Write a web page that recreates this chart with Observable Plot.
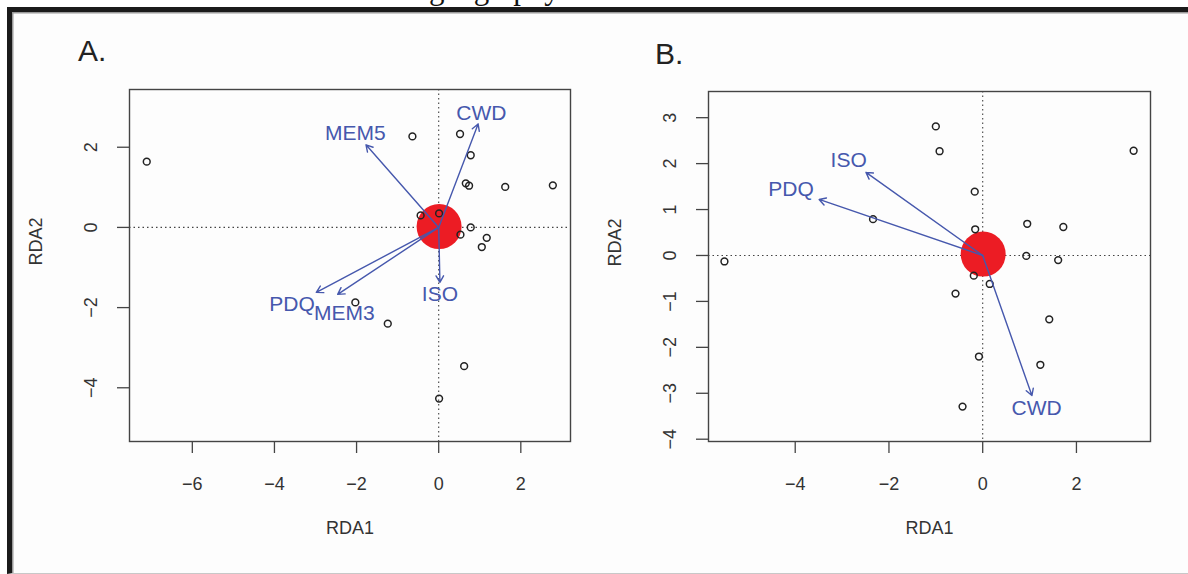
<!DOCTYPE html>
<html><head><meta charset="utf-8">
<script src="https://cdn.jsdelivr.net/npm/d3@7"></script>
<script src="https://cdn.jsdelivr.net/npm/@observablehq/plot@0.6"></script>
<style>
html,body{margin:0;padding:0;background:#fff;width:1188px;height:574px;overflow:hidden;font-family:"Liberation Sans",Arial,sans-serif;}
#cut{position:absolute;left:429px;top:-27.5px;font-family:"Liberation Serif","Times New Roman",serif;font-size:31px;line-height:31px;color:#111;white-space:nowrap;}
#frame{position:absolute;left:7px;top:7px;width:1190px;height:567px;border-left:5px solid #1b1b1b;border-top:5px solid #1b1b1b;border-bottom:1px solid #c8c8c8;background:#fdfdfd;box-sizing:border-box;box-shadow:inset 1.5px 1.5px 0 #9a9a9a;}
.panel{position:absolute;top:60px;}
.letter{position:absolute;font-size:30px;line-height:30px;color:#222;}
</style></head>
<body>
<div id="cut">geography</div>
<div id="frame"></div>
<div class="letter" style="left:78px;top:36px">A.</div>
<div class="letter" style="left:655px;top:39px">B.</div>
<div id="pa" class="panel" style="left:0px"></div>
<div id="pb" class="panel" style="left:594px"></div>
<script>
// ---- Panel A data ----
const sitesA_x = [-7.11,-0.64,0.52,0.78,0.66,0.74,1.62,2.78,-0.44,0.01,0.78,0.53,1.17,1.05,-2.03,-1.24,0.62,0.01];
const sitesA_y = [1.64,2.27,2.33,1.80,1.10,1.04,1.01,1.05,0.30,0.35,0.00,-0.18,-0.26,-0.49,-1.87,-2.40,-3.46,-4.27];
const speciesA = [[0.01, 0.02]];
const varsA = ["MEM5","CWD","ISO","PDQ","MEM3"];
const varsA_x = [-1.77,0.96,0.03,-2.98,-2.46];
const varsA_y = [2.06,2.58,-1.37,-1.62,-1.67];
const labA_x = [-2.03,1.04,0.03,-3.57,-2.30];
const labA_y = [2.35,2.85,-1.66,-1.91,-2.13];
const xTicksA = [-6,-4,-2,0,2];
const yTicksA = [-4,-2,0,2];

// ---- Panel B data ----
const sitesB_x = [-1.00,-0.92,3.22,-0.17,-2.34,-0.16,0.95,1.72,-5.51,0.93,1.61,-0.19,0.15,-0.58,1.42,-0.08,1.23,-0.43];
const sitesB_y = [2.81,2.27,2.28,1.39,0.79,0.57,0.69,0.62,-0.13,-0.01,-0.10,-0.44,-0.62,-0.83,-1.39,-2.20,-2.38,-3.29];
const speciesB = [[0.01, 0.03]];
const varsB = ["ISO","PDQ","CWD"];
const varsB_x = [-2.49,-3.49,1.05];
const varsB_y = [1.81,1.22,-3.05];
const labB_x = [-2.86,-4.09,1.15];
const labB_y = [2.07,1.44,-3.32];
const xTicksB = [-4,-2,0,2];
const yTicksB = [-4,-3,-2,-1,0,1,2,3];

const axisTitleX = "RDA1", axisTitleY = "RDA2";
const BLUE = "#4658ad", RED = "#ec1c24", INK = "#333";
const fmt = d => d < 0 ? "\u2212" + Math.abs(d) : String(d);

function panel({sx, sy, species, vars, vx, vy, lx, ly, xTicks, yTicks, xDomain, yDomain, margins}) {
  const sites = sx.map((x, i) => ({x, y: sy[i]}));
  const arrows = vars.map((name, i) => ({name, x: vx[i], y: vy[i], lx: lx[i], ly: ly[i]}));
  return Plot.plot({
    width: 594, height: 500,
    ...margins,
    x: {domain: xDomain}, y: {domain: yDomain},
    style: {fontFamily: '"Liberation Sans", Arial, sans-serif', fontSize: "18px", color: INK, background: "transparent", overflow: "visible"},
    marks: [
      Plot.ruleX([0], {stroke: "#444", strokeWidth: 1.1, strokeDasharray: "1.5,3"}),
      Plot.ruleY([0], {stroke: "#444", strokeWidth: 1.1, strokeDasharray: "1.5,3"}),
      Plot.dot(species, {x: d => d[0], y: d => d[1], r: 22.5, fill: RED, stroke: "none"}),
      Plot.dot(sites, {x: "x", y: "y", r: 3.4, stroke: "#222", strokeWidth: 1.5, fill: "none"}),
      Plot.arrow(arrows, {x1: () => 0, y1: () => 0, x2: "x", y2: "y", stroke: BLUE, strokeWidth: 1.4, headLength: 8, headAngle: 60}),
      Plot.text(arrows, {x: "lx", y: "ly", text: "name", fill: BLUE, fontSize: 21}),
      Plot.frame({stroke: "#444", strokeWidth: 1.4}),
      Plot.axisX({ticks: xTicks, tickSize: 12, tickPadding: 24, tickFormat: fmt, fontSize: 18, label: null, stroke: "#444", strokeWidth: 1.3}),
      Plot.axisY({ticks: yTicks, tickSize: 12, tickFormat: () => "", label: null, stroke: "#444", strokeWidth: 1.3}),
      Plot.text(yTicks, {y: d => d, frameAnchor: "left", dx: -38, rotate: -90, text: fmt, fontSize: 18, fill: INK, textAnchor: "middle", lineAnchor: "middle"}),
      Plot.text([axisTitleX], {frameAnchor: "bottom", dy: 92, text: d => d, fontSize: 18, fill: INK}),
      Plot.text([axisTitleY], {frameAnchor: "left", dx: -93, rotate: -90, text: d => d, fontSize: 18, fill: INK})
    ]
  });
}

document.getElementById("pa").append(panel({
  sx: sitesA_x, sy: sitesA_y, species: speciesA, vars: varsA, vx: varsA_x, vy: varsA_y, lx: labA_x, ly: labA_y,
  xTicks: xTicksA, yTicks: yTicksA, xDomain: [-7.53, 3.21], yDomain: [-5.34, 3.44],
  margins: {marginLeft: 129, marginRight: 24, marginTop: 29, marginBottom: 119}
}));
document.getElementById("pb").append(panel({
  sx: sitesB_x, sy: sitesB_y, species: speciesB, vars: varsB, vx: varsB_x, vy: varsB_y, lx: labB_x, ly: labB_y,
  xTicks: xTicksB, yTicks: yTicksB, xDomain: [-5.85, 3.58], yDomain: [-4.05, 3.57],
  margins: {marginLeft: 114, marginRight: 38, marginTop: 31, marginBottom: 119}
}));
</script>
</body></html>
